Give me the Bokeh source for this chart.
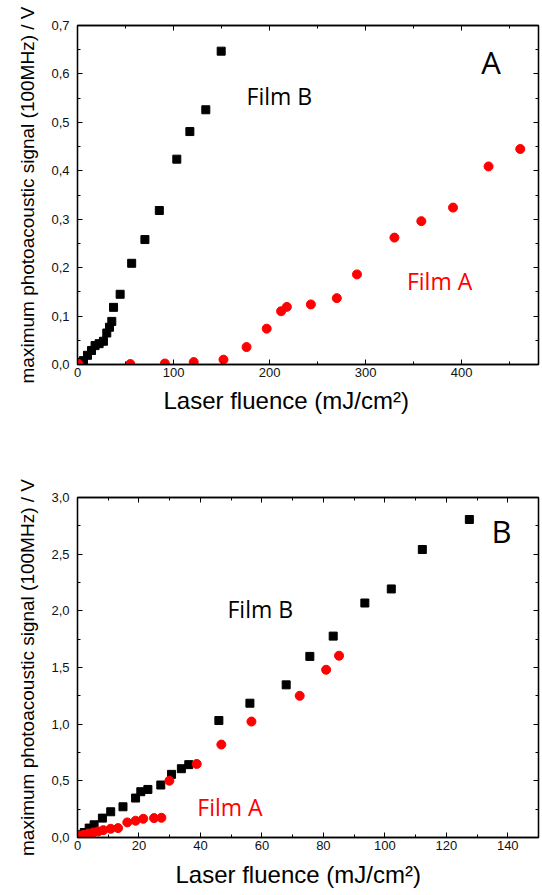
from bokeh.plotting import figure
from bokeh.layouts import column
from bokeh.models import (Range1d, FixedTicker, LinearAxis, CustomJSTickFormatter, Label, Title)
from bokeh.embed import file_html
from bokeh.resources import INLINE

# ---------------- Panel A data ----------------
a_filmB_x = [5.2, 6.2, 10.4, 14.6, 18.3, 22.5, 27.0, 30.5, 33.3, 35.7, 37.5, 44.4,
             56.4, 70.2, 85.2, 103.4, 117.0, 133.6, 149.6]
a_filmB_y = [0.005, 0.008, 0.019, 0.029, 0.039, 0.043, 0.048, 0.065, 0.077, 0.089,
             0.118, 0.145, 0.209, 0.258, 0.318, 0.424, 0.481, 0.526, 0.647]
a_filmA_x = [1, 55, 91, 121, 152, 176, 197, 212, 218, 243, 270, 291, 330, 358, 391, 428, 461]
a_filmA_y = [0.001, 0.001, 0.002, 0.005, 0.010, 0.036, 0.074, 0.110, 0.119, 0.124,
             0.137, 0.186, 0.262, 0.296, 0.324, 0.409, 0.445]

# ---------------- Panel B data ----------------
b_filmB_x = [0.5, 2.2, 3.8, 5.4, 8.1, 10.8, 14.8, 18.9, 20.6, 22.9, 27.1, 30.6, 33.8, 36.2,
             46.0, 56.1, 67.9, 75.6, 83.2, 93.5, 102.1, 112.2, 127.5]
b_filmB_y = [0.024, 0.044, 0.083, 0.112, 0.171, 0.227, 0.271, 0.348, 0.404, 0.424, 0.463,
             0.557, 0.607, 0.643, 1.032, 1.185, 1.347, 1.598, 1.777, 2.069, 2.193, 2.541, 2.806]
b_filmA_x = [0.2, 1.9, 3.5, 5.1, 6.7, 8.4, 10.8, 13.2, 16.2, 18.9, 21.4, 24.9, 27.3, 29.9,
             38.8, 46.8, 56.6, 72.3, 80.9, 85.1]
b_filmA_y = [0.015, 0.024, 0.035, 0.044, 0.053, 0.065, 0.077, 0.083, 0.133, 0.148, 0.165,
             0.171, 0.174, 0.501, 0.649, 0.820, 1.023, 1.250, 1.480, 1.604]

# ---------------- ticks ----------------
a_x_ticks = [0, 100, 200, 300, 400]
a_x_minor = [50, 150, 250, 350, 450]
a_y_ticks = [0.0, 0.1, 0.2, 0.3, 0.4, 0.5, 0.6, 0.7]
a_y_minor = [0.05, 0.15, 0.25, 0.35, 0.45, 0.55, 0.65]
b_x_ticks = [0, 20, 40, 60, 80, 100, 120, 140]
b_x_minor = [10, 30, 50, 70, 90, 110, 130, 150]
b_y_ticks = [0.0, 0.5, 1.0, 1.5, 2.0, 2.5, 3.0]
b_y_minor = [0.25, 0.75, 1.25, 1.75, 2.25, 2.75]

x_label = "Laser fluence (mJ/cm²)"
y_label = "maximum photoacoustic signal (100MHz) / V"

SANS = "Liberation Sans"
ANNOT = "Open Sans"


def style_axis(ax, ticker, fmt, show_labels):
    ax.ticker = ticker
    ax.formatter = fmt
    ax.axis_line_color = "black"
    ax.axis_line_width = 1.3
    ax.major_tick_in = 5
    ax.major_tick_out = 0
    ax.minor_tick_in = 3
    ax.minor_tick_out = 0
    ax.major_tick_line_color = "black"
    ax.minor_tick_line_color = "black"
    ax.major_tick_line_width = 1
    ax.minor_tick_line_width = 1
    ax.major_label_text_font = SANS
    ax.major_label_text_color = "#111111"
    ax.axis_label_text_font = SANS
    ax.axis_label_text_font_style = "normal"
    ax.axis_label_text_color = "black"
    if show_labels:
        ax.major_label_text_font_size = "13px"
    else:
        ax.major_label_text_font_size = "0px"
        ax.major_label_standoff = 0


def make_panel(xr, yr, xt, xm, yt, ym, height, top, bottom,
               bx, by, ax_, ay_, xlab_offset, xlab_standoff, annotations):
    p = figure(width=542, height=height, x_range=Range1d(*xr), y_range=Range1d(*yr),
               output_backend="svg", toolbar_location=None,
               min_border_left=77, min_border_right=4,
               min_border_top=top, min_border_bottom=bottom)
    p.xaxis.visible = False
    p.yaxis.visible = False
    p.grid.visible = False
    p.outline_line_color = "black"
    p.outline_line_width = 1.3
    p.background_fill_color = "white"
    p.border_fill_color = "white"

    xtick = FixedTicker(ticks=xt, minor_ticks=xm)
    ytick = FixedTicker(ticks=yt, minor_ticks=ym)
    xfmt = CustomJSTickFormatter(code="return tick.toFixed(0);")
    yfmt = CustomJSTickFormatter(code="return tick.toFixed(1).replace('.', ',');")
    blank = CustomJSTickFormatter(code="return '';")

    bottom_ax = LinearAxis()
    style_axis(bottom_ax, xtick, xfmt, True)
    bottom_ax.major_label_standoff = 3
    p.add_layout(bottom_ax, "below")

    # x-axis title as a bottom title, offset like the original (left of centre)
    p.add_layout(Title(text=x_label, align="left", offset=xlab_offset,
                       text_font=SANS, text_font_size="24px", text_font_style="normal",
                       text_color="black", standoff=xlab_standoff), "below")

    left_ax = LinearAxis()
    style_axis(left_ax, ytick, yfmt, True)
    left_ax.axis_label = y_label
    left_ax.axis_label_text_font_size = "19px"
    left_ax.major_label_standoff = 8
    left_ax.axis_label_standoff = 10
    p.add_layout(left_ax, "left")

    top_ax = LinearAxis()
    style_axis(top_ax, FixedTicker(ticks=xt, minor_ticks=xm), blank, False)
    p.add_layout(top_ax, "above")

    right_ax = LinearAxis()
    style_axis(right_ax, FixedTicker(ticks=yt, minor_ticks=ym), blank, False)
    p.add_layout(right_ax, "right")

    p.scatter(bx, by, marker="square", size=8, color="black")
    p.scatter(ax_, ay_, marker="circle", size=9, color="#ff0000")

    for (tx, ty, txt, col, fs, align) in annotations:
        p.add_layout(Label(x=tx, y=ty, text=txt, text_color=col, text_font=ANNOT,
                           text_font_size=fs, text_align=align,
                           text_baseline="alphabetic"))
    return p


pA = make_panel((0, 480), (0, 0.7), a_x_ticks, a_x_minor, a_y_ticks, a_y_minor,
                450, 25, 86, a_filmB_x, a_filmB_y, a_filmA_x, a_filmA_y,
                86, 10,
                [(176, 0.555, "Film B", "black", "23px", "left"),
                 (343, 0.173, "Film A", "#ff0000", "23px", "left"),
                 (430.5, 0.625, "A", "black", "31px", "center")])

pB = make_panel((0, 150), (0, 3.0), b_x_ticks, b_x_minor, b_y_ticks, b_y_minor,
                445, 47, 58, b_filmB_x, b_filmB_y, b_filmA_x, b_filmA_y,
                98, 12,
                [(48.8, 2.017, "Film B", "black", "23px", "left"),
                 (39.0, 0.265, "Film A", "#ff0000", "23px", "left"),
                 (138.0, 2.703, "B", "black", "31px", "center")])

layout = column(pA, pB, spacing=0)
open("out.html", "w").write(file_html(layout, INLINE))
